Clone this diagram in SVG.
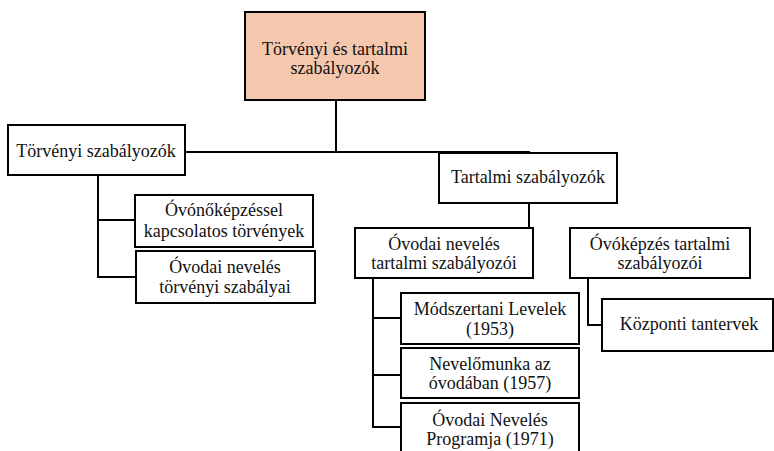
<svg xmlns="http://www.w3.org/2000/svg" width="774" height="451" viewBox="0 0 774 451">
<style>
.box{fill:#fff;stroke:#000;stroke-width:2}
.root{fill:#f5c7ad;stroke:#000;stroke-width:2}
.lbl{font-family:"Liberation Serif","Times New Roman",serif;font-size:18px;fill:#111;text-anchor:middle}
.conn{fill:none;stroke:#000;stroke-width:2}
</style>
<rect width="774" height="451" fill="#fff"/>
<g id="connectors">
<path class="conn" d="M336,100 V152 M185,152 H530 M98,175 V277 H136 M98,220 H135"/>
<path class="conn" d="M529,203 V228"/>
<path class="conn" d="M373,278 V427 H401 M373,318 H401 M373,375 H401"/>
<path class="conn" d="M588,278 V325 H602"/>
</g>
<g id="root">
<rect class="root" x="245" y="12" width="180" height="88"/>
<text class="lbl" x="335" y="55">Törvényi és tartalmi</text>
<text class="lbl" x="335" y="74">szabályozók</text>
</g>
<g id="torvenyi">
<rect class="box" x="8" y="125" width="177" height="50"/>
<text class="lbl" x="96" y="157">Törvényi szabályozók</text>
</g>
<g id="ovonokepzessel">
<rect class="box" x="135" y="195" width="178" height="52"/>
<text class="lbl" x="224" y="216">Óvónőképzéssel</text>
<text class="lbl" x="224" y="237">kapcsolatos törvények</text>
</g>
<g id="ovodai-torvenyi">
<rect class="box" x="136" y="251" width="179" height="52"/>
<text class="lbl" x="225" y="273">Óvodai nevelés</text>
<text class="lbl" x="225" y="293">törvényi szabályai</text>
</g>
<g id="tartalmi">
<rect class="box" x="439" y="153" width="178" height="50"/>
<text class="lbl" x="528" y="183">Tartalmi szabályozók</text>
</g>
<g id="ovodai-tartalmi">
<rect class="box" x="355" y="228" width="178" height="50"/>
<text class="lbl" x="444" y="250">Óvodai nevelés</text>
<text class="lbl" x="444" y="269">tartalmi szabályozói</text>
</g>
<g id="ovokepzes-tartalmi">
<rect class="box" x="570" y="228" width="180" height="50"/>
<text class="lbl" x="660" y="250">Óvóképzés tartalmi</text>
<text class="lbl" x="660" y="269">szabályozói</text>
</g>
<g id="modszertani">
<rect class="box" x="401" y="293" width="178" height="51"/>
<text class="lbl" x="490" y="315">Módszertani Levelek</text>
<text class="lbl" x="490" y="335">(1953)</text>
</g>
<g id="nevelomunka">
<rect class="box" x="401" y="348" width="178" height="50"/>
<text class="lbl" x="490" y="370">Nevelőmunka az</text>
<text class="lbl" x="490" y="389">óvodában (1957)</text>
</g>
<g id="program">
<rect class="box" x="401" y="403" width="178" height="60"/>
<text class="lbl" x="490" y="426">Óvodai Nevelés</text>
<text class="lbl" x="490" y="445">Programja (1971)</text>
</g>
<g id="kozponti">
<rect class="box" x="602" y="299" width="171" height="52"/>
<text class="lbl" x="689" y="330">Központi tantervek</text>
</g>
</svg>
